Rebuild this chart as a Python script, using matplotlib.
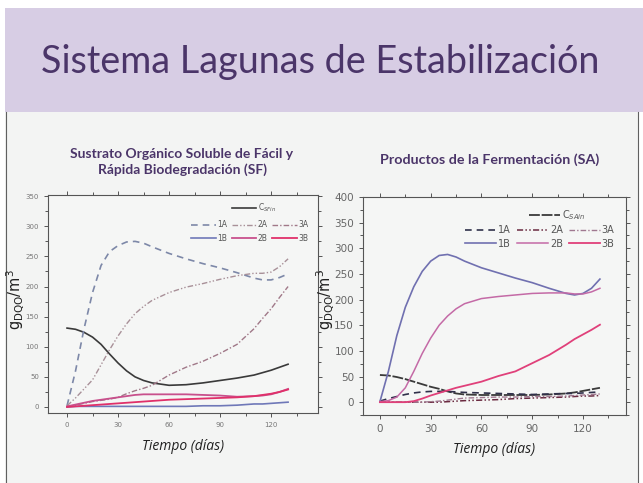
import matplotlib
matplotlib.use("Agg")
import matplotlib.pyplot as plt
from matplotlib.patches import Rectangle
from matplotlib.lines import Line2D
from matplotlib.ticker import MultipleLocator

# ---------------- data ----------------
t = [0, 5, 10, 15, 20, 25, 30, 35, 40, 45, 50, 60, 70, 80, 90, 100, 110, 115, 120, 125, 130]

# Sustrato Orgánico Soluble de Fácil y Rápida Biodegradación (SF)
sf_cin = [131, 129, 124, 116, 104, 88, 73, 60, 50, 44, 40, 36, 37, 40, 44, 48, 53, 57, 61, 66, 71]
sf_1a = [2, 60, 130, 190, 235, 258, 268, 274, 275, 272, 266, 255, 246, 238, 231, 223, 214, 211, 211, 215, 221]
sf_2a = [2, 15, 30, 45, 70, 95, 118, 138, 155, 167, 177, 190, 199, 205, 212, 218, 222, 222, 224, 233, 246]
sf_3a = [1, 3, 6, 9, 11, 13, 16, 22, 27, 31, 36, 53, 66, 76, 89, 104, 130, 147, 163, 182, 200]
sf_1b = [0, 1, 1, 1, 1, 1, 1, 1, 1, 1, 1, 1, 1, 2, 2, 3, 5, 5, 6, 7, 8]
sf_2b = [1, 4, 7, 10, 12, 14, 16, 18, 20, 21, 21, 21, 21, 20, 19, 17, 18, 19, 21, 25, 30]
sf_3b = [0, 1, 2, 3, 4, 5, 6, 7, 8, 9, 10, 12, 13, 14, 15, 16, 18, 20, 22, 25, 29]

# Productos de la Fermentación (SA)
sa_cin = [53, 52, 49, 45, 40, 35, 30, 26, 21, 17, 15, 14, 14, 14, 14, 15, 17, 19, 22, 25, 28]
sa_1a = [2, 7, 11, 15, 18, 20, 21, 21, 21, 20, 19, 18, 17, 16, 15, 16, 17, 17, 18, 19, 20]
sa_2a = [0, 0, 0, 0, 0, 0, 0, 0, 1, 2, 3, 4, 5, 7, 8, 9, 10, 11, 12, 12, 13]
sa_3a = [0, 0, 0, 0, 0, 0, 1, 2, 4, 6, 8, 9, 10, 10, 11, 11, 12, 13, 14, 15, 16]
sa_1b = [1, 60, 130, 185, 225, 255, 275, 286, 288, 283, 275, 262, 252, 242, 233, 222, 212, 209, 212, 222, 240]
sa_2b = [1, 3, 10, 28, 60, 95, 125, 150, 168, 182, 192, 202, 206, 209, 212, 213, 213, 211, 211, 215, 222]
sa_3b = [0, 0, 0, 0, 2, 7, 13, 18, 23, 28, 32, 40, 51, 60, 76, 92, 112, 123, 132, 141, 151]

sf_title = "Sustrato Orgánico Soluble de Fácil y\nRápida Biodegradación (SF)"
sa_title = "Productos de la Fermentación (SA)"
main_title = "Sistema Lagunas de Estabilización"
sf_legend_c = r"C$_{SFin}$"
sa_legend_c = r"C$_{SAin}$"
series_labels = ["1A", "2A", "3A", "1B", "2B", "3B"]
x_label = "Tiempo (días)"
y_label = r"g$_{\mathrm{DQO}}$/m$^3$"

# ---------------- figure ----------------
W, H = 643, 483
fig = plt.figure(figsize=(W / 100, H / 100), dpi=100)
fig.patch.set_facecolor("white")

def fx(px):
    return px / W

def fy(py):
    return 1 - py / H

# panel background + borders
fig.patches.append(Rectangle((fx(5), 0), fx(633), fy(112), transform=fig.transFigure,
                             facecolor="#f3f4f3", edgecolor="none", zorder=-3))
fig.add_artist(Line2D([fx(5.5), fx(5.5)], [0, fy(112)], color="#606060", lw=0.8))
fig.add_artist(Line2D([fx(638), fx(638)], [0, fy(112)], color="#606060", lw=0.8))
# title band
fig.patches.append(Rectangle((fx(5), fy(112)), 1 - fx(5), fy(8) - fy(112), transform=fig.transFigure,
                             facecolor="#d7cde4", edgecolor="none", zorder=-2))
fig.text(fx(320), fy(62), main_title, ha="center", va="center", fontsize=27.2,
         family="Lato", color="#4b3569")

title_color = "#4b3569"
lab_color = "#202020"

def style_axes(ax, tick_fs, tick_col):
    ax.set_facecolor("#f5f6f5")
    for s in ax.spines.values():
        s.set_color("#555555")
        s.set_linewidth(0.8)
    ax.tick_params(which="both", top=True, right=True, direction="out",
                   labelsize=tick_fs, labelcolor=tick_col, color="#555555", width=0.7)
    ax.tick_params(which="major", length=3)
    ax.tick_params(which="minor", length=2)
    ax.xaxis.set_major_locator(MultipleLocator(30))
    ax.xaxis.set_minor_locator(MultipleLocator(15))
    ax.yaxis.set_major_locator(MultipleLocator(50))
    ax.yaxis.set_minor_locator(MultipleLocator(25))

ls_1a = (0, (4, 3))
ls_2a = (0, (4, 1.5, 1, 1.5, 1, 1.5))
ls_3a = (0, (4, 1.5, 1, 1.5))

# ---------- left: SF ----------
ax1 = fig.add_axes([fx(48), fy(413), fx(270), (413 - 195) / H])
style_axes(ax1, 5, "#777777")
ax1.set_xlim(-11.2, 147.6)
ax1.set_ylim(-10, 352)

l_c1, = ax1.plot(t, sf_cin, color="#3a3a3a", lw=1.2)
h1a, = ax1.plot(t, sf_1a, color="#7d88a8", lw=1.2, ls=ls_1a)
h2a, = ax1.plot(t, sf_2a, color="#a89098", lw=1.0, ls=ls_2a)
h3a, = ax1.plot(t, sf_3a, color="#a07888", lw=1.0, ls=ls_3a)
h1b, = ax1.plot(t, sf_1b, color="#6f78b8", lw=1.2)
h2b, = ax1.plot(t, sf_2b, color="#c8508c", lw=1.3)
h3b, = ax1.plot(t, sf_3b, color="#e0306a", lw=1.3)

legc = ax1.legend([l_c1], [sf_legend_c], loc="upper right", bbox_to_anchor=(0.87, 1.0),
                  frameon=False, fontsize=5.5, handlelength=3.2, handletextpad=0.2,
                  labelcolor="#555555")
ax1.add_artist(legc)
ax1.legend([h1a, h1b, h2a, h2b, h3a, h3b],
           [series_labels[0], series_labels[3], series_labels[1], series_labels[4],
            series_labels[2], series_labels[5]],
           ncol=3, loc="upper right", bbox_to_anchor=(0.99, 0.915), frameon=False,
           fontsize=5.5, handlelength=3.2, handletextpad=0.2, columnspacing=0.6,
           labelspacing=0.55, labelcolor="#555555")

ax1.set_xlabel(x_label, fontsize=10, style="italic", family="Open Sans",
               color=lab_color, labelpad=8)
fig.text(fx(15), fy(300), y_label, rotation=90, ha="center", va="center",
         fontsize=10.5, color=lab_color)
fig.text(fx(182), fy(162), sf_title, ha="center", va="center", fontsize=10,
         fontweight="bold", family="Lato", color=title_color, linespacing=1.3)

# ---------- right: SA ----------
ax2 = fig.add_axes([fx(363), fy(415), fx(263), (415 - 197) / H])
style_axes(ax2, 7.5, "#666666")
ax2.set_xlim(-10, 145.4)
ax2.set_ylim(-25, 400)

l_c2, = ax2.plot(t, sa_cin, color="#3a3a3a", lw=1.3, ls=(0, (6, 1)))
g1a, = ax2.plot(t, sa_1a, color="#30304a", lw=1.2, ls=ls_1a)
g2a, = ax2.plot(t, sa_2a, color="#6a2a40", lw=1.1, ls=ls_2a)
g3a, = ax2.plot(t, sa_3a, color="#a07890", lw=1.0, ls=ls_3a)
g1b, = ax2.plot(t, sa_1b, color="#7070b0", lw=1.2)
g2b, = ax2.plot(t, sa_2b, color="#c46aa6", lw=1.1)
g3b, = ax2.plot(t, sa_3b, color="#e0407a", lw=1.3)

legc2 = ax2.legend([l_c2], [sa_legend_c], loc="upper right", bbox_to_anchor=(0.88, 0.99),
                   frameon=False, fontsize=7, handlelength=3.2, handletextpad=0.2,
                   labelcolor="#555555")
ax2.add_artist(legc2)
ax2.legend([g1a, g1b, g2a, g2b, g3a, g3b],
           [series_labels[0], series_labels[3], series_labels[1], series_labels[4],
            series_labels[2], series_labels[5]],
           ncol=3, loc="upper right", bbox_to_anchor=(0.99, 0.91), frameon=False,
           fontsize=7, handlelength=3.2, handletextpad=0.2, columnspacing=0.6,
           labelspacing=0.35, labelcolor="#555555")

ax2.set_xlabel(x_label, fontsize=10, style="italic", family="Open Sans",
               color=lab_color, labelpad=6)
fig.text(fx(325), fy(300), y_label, rotation=90, ha="center", va="center",
         fontsize=10.5, color=lab_color)
fig.text(fx(490), fy(160), sa_title, ha="center", va="center", fontsize=10.3,
         fontweight="bold", family="Lato", color=title_color)

fig.savefig("out.png", dpi=100)
